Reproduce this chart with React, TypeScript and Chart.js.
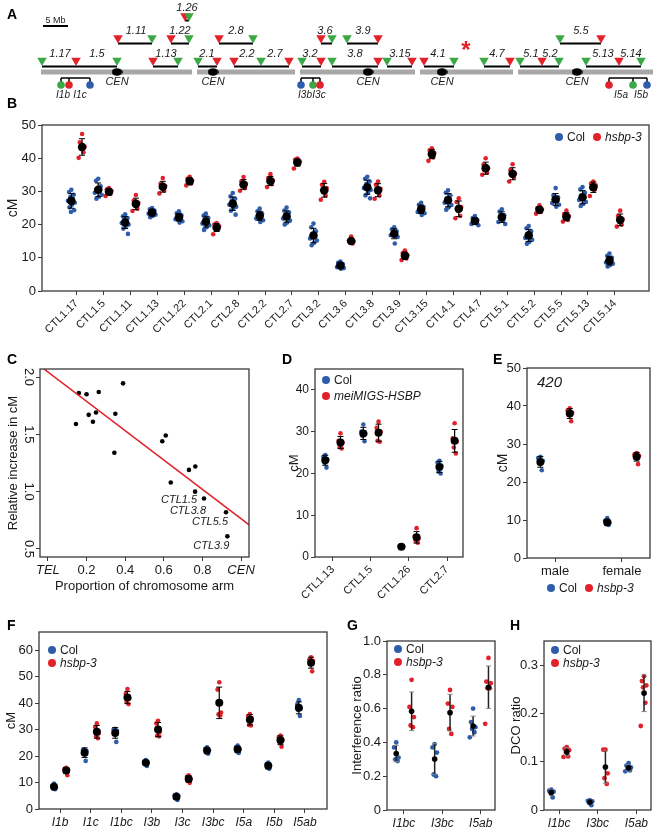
import React, { useEffect, useRef } from "react";
import { Chart, registerables } from "chart.js";

Chart.register(...registerables);

const FONT = "'Liberation Sans', Arial, Helvetica, sans-serif";
Chart.defaults.font.family = FONT;
Chart.defaults.color = "#1a1a1a";

const BLUE = "#2d5dab";
const RED = "#e2222b";
const GREEN = "#3aa845";
const INK = "#1a1a1a";
const FRAME = "#3a3a3a";

// ---------------- Panel A: map (Mb along concatenated genome) ----------------
const chromStart = [0, 31.2, 51.8, 75.8, 95.4];
const chromEnd = [30.2, 50.8, 74.8, 94.4, 122.4];
const centromeres = [15.2, 34.4, 65.4, 80.2, 107.2];
const row1Red = [7, 22.4, 35.2, 38.6, 49.6, 56, 67.4, 74.2, 76.6, 93.8, 100.2, 115.6];
const row1Green = [0.2, 15.2, 27.4, 31.4, 44, 52.2, 58.2, 69.2, 82.6, 88.6, 95.8, 103.6, 109, 120];
const row1Spans = [[0.2, 15.2], [22.4, 27.4], [31.4, 35.2], [38.6, 49.6], [52.2, 56], [58.2, 67.4], [69.2, 74.2], [76.6, 82.6], [88.6, 93.8], [95.8, 103.6], [109, 120]];
const row1Names = ["1.17", "1.5", "1.13", "2.1", "2.2", "2.7", "3.2", "3.8", "3.15", "4.1", "4.7", "5.1", "5.2", "5.13", "5.14"];
const row1NameX = [3.8, 11.2, 25, 33.2, 41.2, 46.8, 53.8, 62.8, 71.8, 79.4, 91.2, 98, 101.8, 112.4, 118];
const row2Red = [15.4, 26, 35.6, 56, 67.4, 112];
const row2Green = [22.2, 29.6, 42.4, 58.2, 61.2, 103.8];
const row2Spans = [[15.4, 22.2], [26, 29.6], [35.6, 42.4], [56, 58.2], [61.2, 67.4], [103.8, 112]];
const row2Names = ["1.11", "1.22", "2.8", "3.6", "3.9", "5.5"];
const row2NameX = [19, 27.8, 39, 56.8, 64.4, 108];
const row3Red = [28.8];
const row3Green = [29.6];
const row3Spans = [[28.8, 29.6]];
const row3Names = ["1.26"];
const row3NameX = [29.2];
const ivlGreen = [4, 54.4, 118.4];
const ivlRed = [5.6, 55.8, 113.6];
const ivlBlue = [9.8, 52, 121.2];
const ivlSpans = [[4, 9.8], [52, 55.8], [113.6, 121.2]];
const ivlNames = ["I1b", "I1c", "I3b", "I3c", "I5a", "I5b"];
const ivlNameX = [4.4, 7.8, 52.8, 55.6, 116, 120];
const scaleBar = [0.4, 5.4];
const asteriskX = 85;

// ---------------- Panel B ----------------
const bCats = ["CTL1.17", "CTL1.5", "CTL1.11", "CTL1.13", "CTL1.22", "CTL2.1", "CTL2.8", "CTL2.2", "CTL2.7", "CTL3.2", "CTL3.6", "CTL3.8", "CTL3.9", "CTL3.15", "CTL4.1", "CTL4.7", "CTL5.1", "CTL5.2", "CTL5.5", "CTL5.13", "CTL5.14"];
const bCol = [
  [30.5, 29.8, 29.0, 28.3, 27.8, 27.2, 26.6, 26.0, 25.2, 24.3, 23.8],
  [33.8, 33.2, 31.5, 30.8, 30.2, 29.6, 29.0, 28.4, 27.8],
  [23.1, 22.5, 22.0, 21.5, 21.0, 20.5, 20.0, 19.5, 18.8, 17.2],
  [25.0, 24.6, 24.2, 23.9, 23.6, 23.3, 23.0, 22.6, 22.2],
  [24.0, 23.4, 22.8, 22.4, 22.0, 21.6, 21.0, 20.6],
  [23.3, 22.7, 22.0, 21.4, 20.9, 20.3, 19.8, 19.2, 18.4],
  [29.5, 28.5, 27.8, 27.2, 26.6, 26.0, 25.4, 24.8, 24.2, 23.0],
  [24.8, 24.0, 23.3, 22.8, 22.3, 21.8, 21.3, 20.8],
  [25.1, 24.2, 23.6, 23.0, 22.4, 21.8, 21.2, 20.6, 20.0],
  [20.3, 19.2, 18.0, 17.2, 16.4, 15.8, 15.2, 14.5, 13.8],
  [8.9, 8.5, 8.1, 7.8, 7.5, 7.2, 6.9, 6.7],
  [34.4, 33.8, 33.0, 32.2, 31.6, 31.0, 30.4, 29.6, 28.8, 27.9],
  [19.2, 18.6, 18.0, 17.6, 17.2, 16.8, 16.3, 14.3],
  [26.6, 26.0, 25.3, 24.7, 24.2, 23.8, 23.4, 22.9],
  [30.3, 29.6, 28.8, 28.0, 27.3, 26.6, 25.9, 25.2, 24.5],
  [22.6, 22.0, 21.4, 21.0, 20.6, 20.2, 19.8],
  [24.6, 23.9, 22.8, 22.0, 21.4, 20.8, 20.2],
  [19.6, 18.9, 18.0, 17.2, 16.6, 16.0, 15.4, 14.8, 14.2],
  [31.0, 28.8, 28.2, 27.6, 27.0, 26.5, 26.0, 25.4],
  [31.3, 30.6, 29.6, 28.8, 28.0, 27.4, 26.8, 26.2, 25.6],
  [11.3, 10.6, 10.0, 9.4, 9.0, 8.6, 8.2, 7.8, 7.4],
];
const bMut = [
  [47.3, 44.8, 43.5, 42.8, 41.8, 40.1],
  [31.0, 30.6, 30.2, 29.8, 29.2, 28.6],
  [28.9, 27.2, 26.6, 25.8, 24.8, 24.1],
  [34.0, 32.3, 31.6, 31.0, 30.2, 29.4],
  [34.4, 33.8, 33.3, 32.9, 32.4, 31.8],
  [20.5, 20.0, 19.5, 19.0, 18.6, 17.1],
  [34.3, 33.0, 32.3, 31.8, 31.0, 30.2],
  [35.2, 34.0, 33.3, 32.8, 32.2, 31.3],
  [39.9, 39.5, 39.1, 38.7, 38.2, 36.9],
  [32.9, 32.0, 31.0, 29.8, 28.7, 27.5],
  [16.4, 15.2, 14.9, 14.6, 14.3],
  [33.0, 32.0, 30.8, 29.8, 28.8, 27.8],
  [12.2, 11.4, 10.8, 10.2, 9.8, 9.3],
  [43.0, 42.4, 41.6, 40.9, 40.3, 39.2],
  [27.9, 26.8, 25.3, 24.1, 22.6, 21.9],
  [40.0, 38.0, 37.0, 36.4, 35.6, 35.0],
  [38.2, 36.4, 35.4, 34.8, 34.1, 33.0],
  [25.8, 25.0, 24.6, 24.2, 23.8, 23.3],
  [24.2, 23.2, 22.6, 22.0, 21.4, 20.9],
  [33.0, 32.4, 31.8, 31.2, 30.5, 28.6],
  [24.2, 22.6, 21.6, 20.8, 20.0, 19.4],
];
const bYTicks = [0, 10, 20, 30, 40, 50];

// ---------------- Panel C ----------------
const cX = [0.16, 0.2, 0.263, 0.389, 0.145, 0.211, 0.249, 0.233, 0.349, 0.344, 0.592, 0.61, 0.636, 0.73, 0.763, 0.762, 0.808, 0.922, 0.929];
const cY = [1.86, 1.85, 1.87, 1.945, 1.59, 1.67, 1.69, 1.61, 1.68, 1.34, 1.44, 1.49, 1.08, 1.19, 1.22, 1.0, 0.94, 0.82, 0.61];
const cLabelIdx = [15, 16, 17, 18];
const cLabelNames = ["CTL1.5", "CTL3.8", "CTL5.5", "CTL3.9"];
const cFitIntercept = 2.044;
const cFitSlope = -1.28;
const cXTicks = [0, 0.2, 0.4, 0.6, 0.8, 1.0];
const cXTickLabels = ["TEL", "0.2", "0.4", "0.6", "0.8", "CEN"];
const cYTicks = [0.5, 1.0, 1.5, 2.0];

// ---------------- Panel D ----------------
const dCats = ["CTL1.13", "CTL1.5", "CTL1.26", "CTL2.7"];
const dCol = [[24.4, 24.0, 23.4, 22.6, 21.4], [31.7, 30.0, 29.5, 29.0, 27.7], [2.8, 2.6, 2.5, 2.3, 2.2], [23.0, 22.6, 21.8, 20.4, 20.0]];
const dMut = [[29.6, 27.8, 27.4, 26.3, 26.0], [32.4, 30.9, 30.0, 27.8, 27.6], [6.9, 5.0, 4.4, 3.8, 3.4], [32.0, 28.4, 27.6, 26.2, 24.8]];
const dYTicks = [0, 10, 20, 30, 40];

// ---------------- Panel E ----------------
const eCats = ["male", "female"];
const eCol = [[26.6, 26.3, 25.6, 24.8, 23.1], [10.5, 9.8, 9.3, 8.9, 8.7]];
const eMut = [[39.4, 38.8, 38.2, 37.6, 36.0], [27.6, 27.2, 26.9, 26.8, 24.7]];
const eYTicks = [0, 10, 20, 30, 40, 50];

// ---------------- Panel F ----------------
const fCats = ["I1b", "I1c", "I1bc", "I3b", "I3c", "I3bc", "I5a", "I5b", "I5ab"];
const fCol = [[9.6, 8.8, 8.2, 7.8, 7.5], [22.6, 22.3, 22.0, 21.5, 18.2], [30.4, 30.0, 29.6, 28.6, 25.4], [18.5, 18.0, 17.6, 17.2, 16.3], [5.6, 5.2, 4.9, 4.2, 3.4], [23.4, 22.8, 22.2, 21.4, 20.9], [24.0, 23.4, 22.6, 21.8, 21.2], [17.6, 17.0, 16.4, 15.6, 15.2], [41.2, 39.5, 38.0, 37.5, 35.2]];
const fMut = [[15.6, 15.2, 14.8, 14.4, 12.8], [32.4, 31.0, 28.6, 27.4, 26.8], [45.4, 43.5, 41.8, 40.5, 39.7], [33.4, 32.4, 29.2, 27.8, 27.5], [12.8, 12.2, 11.4, 10.6, 9.9], [48.0, 45.2, 36.5, 35.8, 35.4], [35.9, 35.2, 34.4, 31.8, 31.6], [27.8, 27.2, 26.2, 25.2, 23.6], [57.4, 56.6, 56.0, 54.8, 52.1]];
const fYTicks = [0, 10, 20, 30, 40, 50, 60];

// ---------------- Panel G ----------------
const gCats = ["I1bc", "I3bc", "I5ab"];
const gCol = [[0.40, 0.37, 0.31, 0.30, 0.29], [0.39, 0.37, 0.34, 0.21, 0.20], [0.60, 0.52, 0.49, 0.48, 0.46, 0.43]];
const gMut = [[0.77, 0.61, 0.55, 0.50, 0.49], [0.71, 0.63, 0.61, 0.48, 0.45], [0.90, 0.76, 0.75, 0.72, 0.72, 0.51]];
const gYTicks = [0, 0.2, 0.4, 0.6, 0.8, 1.0];

// ---------------- Panel H ----------------
const hCats = ["I1bc", "I3bc", "I5ab"];
const hCol = [[0.042, 0.040, 0.038, 0.036, 0.026], [0.020, 0.019, 0.018, 0.015, 0.010], [0.097, 0.092, 0.088, 0.085, 0.082, 0.080]];
const hMut = [[0.130, 0.127, 0.124, 0.120, 0.111, 0.110], [0.125, 0.125, 0.076, 0.066, 0.054], [0.277, 0.267, 0.258, 0.254, 0.222, 0.174]];
const hYTicks = [0, 0.1, 0.2, 0.3];

// ---------------------------------------------------------------------------
const JIT = [0, -0.55, 0.6, -0.25, 0.35, -0.85, 0.85, 0.15, -0.45, 0.7, -0.1];

function meanSd(v: number[]) {
  const m = v.reduce((a, b) => a + b, 0) / v.length;
  const sd = Math.sqrt(v.reduce((a, b) => a + (b - m) * (b - m), 0) / (v.length - 1));
  return { m, sd };
}

const boxPlugin = {
  id: "box",
  afterDraw(chart: any) {
    const { ctx, chartArea: a } = chart;
    ctx.save();
    ctx.strokeStyle = FRAME;
    ctx.lineWidth = 1.3;
    ctx.strokeRect(a.left, a.top, a.right - a.left, a.bottom - a.top);
    ctx.restore();
  },
};

const gridOpts = { display: true, drawOnChartArea: false, drawTicks: true, tickLength: 4, color: FRAME, lineWidth: 1 };

type DotCfg = {
  cx: number; cy: number; cw: number; ch: number;
  area: number[];
  cats: string[]; xMin: number; xMax: number;
  yMax: number; yTicks: number[]; fmt: (v: number) => string;
  col: number[][]; mut: number[][];
  off: number; jit: number; pr: number; mr: number; cap: number;
  rot: boolean; italicX: boolean; xFont: number; yFont: number;
  yTitle: string; yTitleSize: number; yTitlePad: number;
  barColor: string; capColor: string; barWidth: number;
};

function buildDot(canvas: HTMLCanvasElement, c: DotCfg) {
  const [L, T, R, B] = c.area;
  const l = L - c.cx, t = T - c.cy, r = R - c.cx, b = B - c.cy;
  const spread = (groups: number[][], side: number) =>
    groups.flatMap((vals, i) => vals.map((v, j) => ({ x: i + side * c.off + JIT[j % JIT.length] * c.jit, y: v })));
  const stats = [
    ...c.col.map((v, i) => ({ x: i - c.off, ...meanSd(v) })),
    ...c.mut.map((v, i) => ({ x: i + c.off, ...meanSd(v) })),
  ];
  const errPlugin = {
    id: "err",
    afterDatasetDraw(chart: any, args: any) {
      if (args.index !== 1) return;
      const { ctx, scales } = chart;
      ctx.save();
      stats.forEach((s) => {
        const px = scales.x.getPixelForValue(s.x);
        const y0 = scales.y.getPixelForValue(s.m - s.sd);
        const y1 = scales.y.getPixelForValue(s.m + s.sd);
        ctx.strokeStyle = c.barColor;
        ctx.lineWidth = c.barWidth;
        ctx.beginPath();
        ctx.moveTo(px, y0);
        ctx.lineTo(px, y1);
        ctx.stroke();
        ctx.strokeStyle = c.capColor;
        ctx.lineWidth = 1;
        ctx.beginPath();
        ctx.moveTo(px - c.cap, y0);
        ctx.lineTo(px + c.cap, y0);
        ctx.moveTo(px - c.cap, y1);
        ctx.lineTo(px + c.cap, y1);
        ctx.stroke();
      });
      ctx.restore();
    },
  };
  return new Chart(canvas, {
    type: "scatter",
    data: {
      datasets: [
        { data: spread(c.col, -1), backgroundColor: BLUE, borderWidth: 0, pointRadius: c.pr, order: 3 },
        { data: spread(c.mut, 1), backgroundColor: RED, borderWidth: 0, pointRadius: c.pr, order: 2 },
        { data: stats.map((s) => ({ x: s.x, y: s.m })), backgroundColor: "#000", borderWidth: 0, pointRadius: c.mr, order: 1 },
      ],
    },
    options: {
      responsive: false,
      animation: false,
      layout: { autoPadding: false, padding: { left: 0, top: t, right: c.cw - r, bottom: 0 } },
      plugins: { legend: { display: false }, tooltip: { enabled: false } },
      scales: {
        x: {
          type: "linear",
          min: c.xMin,
          max: c.xMax,
          afterFit: (s: any) => { s.height = c.ch - b; },
          afterBuildTicks: (s: any) => { s.ticks = c.cats.map((_, i) => ({ value: i })); },
          ticks: {
            autoSkip: false,
            callback: (v: any) => c.cats[v] ?? "",
            minRotation: c.rot ? 45 : 0,
            maxRotation: c.rot ? 45 : 0,
            font: { size: c.xFont, style: c.italicX ? "italic" : "normal", family: FONT },
            color: INK,
            padding: 2,
          },
          grid: gridOpts,
          border: { display: false },
        },
        y: {
          type: "linear",
          min: 0,
          max: c.yMax,
          afterFit: (s: any) => { s.width = l; },
          afterBuildTicks: (s: any) => { s.ticks = c.yTicks.map((v) => ({ value: v })); },
          ticks: { callback: (v: any) => c.fmt(v), font: { size: c.yFont, family: FONT }, color: INK, padding: 2 },
          grid: gridOpts,
          border: { display: false },
          title: { display: true, text: c.yTitle, color: INK, font: { size: c.yTitleSize, family: FONT }, padding: { top: c.yTitlePad, bottom: 0 } },
        },
      },
    } as any,
    plugins: [errPlugin, boxPlugin],
  });
}

function buildMap(canvas: HTMLCanvasElement) {
  const Y = { r3: 16, r3line: 20.5, r2: 38, r2line: 43.5, r1: 60.5, r1line: 66.5, chrom: 72, bracket: 78, circ: 85, l1: 53.5, l2: 31, l3: 8, cen: 81.5, ivl: 95 };
  const seg = (a: number, b: number, y1: number, y2: number, color: string, w: number) => ({
    data: [{ x: a, y: y1 }, { x: b, y: y2 }], showLine: true, borderColor: color, borderWidth: w,
    pointRadius: 0, borderCapStyle: "butt", clip: false,
  });
  const pts = (xs: number[], y: number, color: string, style: any, r: number, rot = 0) => ({
    data: xs.map((x) => ({ x, y })), pointStyle: style, pointRadius: r, pointRotation: rot,
    backgroundColor: color, borderColor: color, borderWidth: 0, clip: false,
  });
  const cen = document.createElement("canvas");
  cen.width = 11;
  cen.height = 8;
  const g = cen.getContext("2d")!;
  g.fillStyle = "#000";
  g.beginPath();
  g.ellipse(5.5, 4, 5.3, 3.8, 0, 0, Math.PI * 2);
  g.fill();

  const datasets: any[] = [
    ...chromStart.map((s, i) => seg(s, chromEnd[i], Y.chrom, Y.chrom, "#a8a8a8", 5)),
    ...row1Spans.map(([a, b]) => seg(a, b, Y.r1line, Y.r1line, "#000", 2)),
    ...row2Spans.map(([a, b]) => seg(a, b, Y.r2line, Y.r2line, "#000", 2)),
    ...row3Spans.map(([a, b]) => seg(a, b, Y.r3line, Y.r3line, "#000", 2)),
    ...ivlSpans.map(([a, b]) => seg(a, b, Y.bracket, Y.bracket, "#000", 1.5)),
    ...[...ivlGreen, ...ivlRed, ...ivlBlue].map((x) => seg(x, x, Y.bracket, Y.circ, "#000", 1.5)),
    seg(scaleBar[0], scaleBar[1], 26, 26, "#000", 2),
    pts(centromeres, Y.chrom, "#000", cen, 5),
    pts(row1Red, Y.r1, RED, "triangle", 5.5, 180),
    pts(row1Green, Y.r1, GREEN, "triangle", 5.5, 180),
    pts(row2Red, Y.r2, RED, "triangle", 5.5, 180),
    pts(row2Green, Y.r2, GREEN, "triangle", 5.5, 180),
    pts(row3Red, Y.r3, RED, "triangle", 5.5, 180),
    pts(row3Green, Y.r3, GREEN, "triangle", 5.5, 180),
    pts(ivlGreen, Y.circ, GREEN, "circle", 3.8),
    pts(ivlRed, Y.circ, RED, "circle", 3.8),
    pts(ivlBlue, Y.circ, BLUE, "circle", 3.8),
  ];
  // first listed dataset is painted first
  datasets.forEach((d, i) => { d.order = datasets.length - i; });
  const texts: any[] = [
    ...row1Names.map((t, i) => ({ t, x: row1NameX[i], y: Y.l1, f: `italic 11px ${FONT}`, c: INK })),
    ...row2Names.map((t, i) => ({ t, x: row2NameX[i], y: Y.l2, f: `italic 11px ${FONT}`, c: INK })),
    ...row3Names.map((t, i) => ({ t, x: row3NameX[i], y: Y.l3, f: `italic 11px ${FONT}`, c: INK })),
    ...centromeres.map((x) => ({ t: "CEN", x, y: Y.cen, f: `italic 11px ${FONT}`, c: INK })),
    ...ivlNames.map((t, i) => ({ t, x: ivlNameX[i], y: Y.ivl, f: `italic 10px ${FONT}`, c: INK })),
    { t: "5 Mb", x: (scaleBar[0] + scaleBar[1]) / 2, y: 20.5, f: `9px ${FONT}`, c: INK },
    { t: "*", x: asteriskX, y: 51, f: `bold 24px ${FONT}`, c: RED },
  ];
  const textPlugin = {
    id: "maptext",
    afterDatasetsDraw(chart: any) {
      const { ctx, scales } = chart;
      ctx.save();
      ctx.textAlign = "center";
      ctx.textBaseline = "middle";
      texts.forEach((o) => {
        ctx.font = o.f;
        ctx.fillStyle = o.c;
        ctx.fillText(o.t, scales.x.getPixelForValue(o.x), scales.y.getPixelForValue(o.y));
      });
      ctx.restore();
    },
  };
  return new Chart(canvas, {
    type: "scatter",
    data: { datasets },
    options: {
      responsive: false,
      animation: false,
      layout: { autoPadding: false, padding: 0 },
      plugins: { legend: { display: false }, tooltip: { enabled: false } },
      scales: {
        x: { type: "linear", min: -8.2, max: 123.4, display: false },
        y: { type: "linear", min: 0, max: 100, reverse: true, display: false },
      },
    } as any,
    plugins: [textPlugin],
  });
}

function buildC(canvas: HTMLCanvasElement) {
  const cx = 0, cy = 355, cw = 260, ch = 245;
  const l = 40 - cx, t = 369 - cy, r = 249 - cx, b = 557 - cy;
  const labelDy = [8, 12, 10, 10];
  const labelPlugin = {
    id: "clabels",
    afterDatasetsDraw(chart: any) {
      const { ctx, scales } = chart;
      ctx.save();
      ctx.font = `italic 11px ${FONT}`;
      ctx.fillStyle = INK;
      ctx.textAlign = "right";
      ctx.textBaseline = "middle";
      cLabelIdx.forEach((idx, k) => {
        const px = scales.x.getPixelForValue(cX[idx]);
        const py = scales.y.getPixelForValue(cY[idx]);
        ctx.fillText(cLabelNames[k], px + 2, py + labelDy[k]);
      });
      ctx.restore();
    },
  };
  return new Chart(canvas, {
    type: "scatter",
    data: {
      datasets: [
        { data: cX.map((x, i) => ({ x, y: cY[i] })), backgroundColor: "#000", borderWidth: 0, pointRadius: 2.3, order: 2 },
        {
          data: [-0.1, 1.1].map((x) => ({ x, y: cFitIntercept + cFitSlope * x })),
          showLine: true, borderColor: RED, borderWidth: 1.5, pointRadius: 0, order: 1,
        },
      ],
    },
    options: {
      responsive: false,
      animation: false,
      layout: { autoPadding: false, padding: { left: 0, top: t, right: cw - r, bottom: 0 } },
      plugins: { legend: { display: false }, tooltip: { enabled: false } },
      scales: {
        x: {
          type: "linear", min: -0.041, max: 1.041,
          afterFit: (s: any) => { s.height = ch - b; },
          afterBuildTicks: (s: any) => { s.ticks = cXTicks.map((v) => ({ value: v })); },
          ticks: {
            autoSkip: false,
            callback: (v: any) => cXTickLabels[cXTicks.indexOf(v)] ?? "",
            font: (ctx: any) => ({ size: 13, family: FONT, style: ctx.tick && (ctx.tick.value === 0 || ctx.tick.value === 1) ? "italic" : "normal" }),
            color: INK, padding: 2, minRotation: 0, maxRotation: 0,
          },
          grid: gridOpts,
          border: { display: false },
          title: { display: true, text: "Proportion of chromosome arm", color: INK, font: { size: 13, family: FONT }, padding: { top: 0, bottom: 6 } },
        },
        y: {
          type: "linear", min: 0.43, max: 2.07,
          afterFit: (s: any) => { s.width = l; },
          afterBuildTicks: (s: any) => { s.ticks = cYTicks.map((v) => ({ value: v })); },
          ticks: { callback: (v: any) => Number(v).toFixed(1), font: { size: 13, family: FONT }, color: INK, padding: -2, minRotation: -90, maxRotation: -90, crossAlign: "center" },
          grid: gridOpts,
          border: { display: false },
          title: { display: true, text: "Relative increase in cM", color: INK, font: { size: 13, family: FONT }, padding: { top: 5.5, bottom: 0 } },
        },
      },
    } as any,
    plugins: [labelPlugin, boxPlugin],
  });
}

const fmtInt = (v: number) => String(v);
const fmtDec = (v: number) => (v === 0 ? "0" : v.toFixed(1));

const cfgB: DotCfg = {
  cx: 0, cy: 100, cw: 658, ch: 260, area: [42, 125, 649, 291],
  cats: bCats, xMin: -1.29, xMax: 21.27, yMax: 50, yTicks: bYTicks, fmt: fmtInt,
  col: bCol, mut: bMut, off: 0.2, jit: 0.15, pr: 2.3, mr: 4.3, cap: 3,
  rot: true, italicX: false, xFont: 11, yFont: 13,
  yTitle: "cM", yTitleSize: 14, yTitlePad: 4.6, barColor: "#000", capColor: "#000", barWidth: 1.2,
};
const cfgD: DotCfg = {
  cx: 262, cy: 355, cw: 210, ch: 250, area: [315, 369, 463, 557],
  cats: dCats, xMin: -0.47, xMax: 3.42, yMax: 45, yTicks: dYTicks, fmt: fmtInt,
  col: dCol, mut: dMut, off: 0.2, jit: 0.09, pr: 2.3, mr: 4, cap: 3,
  rot: true, italicX: false, xFont: 11, yFont: 12,
  yTitle: "cM", yTitleSize: 13, yTitlePad: 25, barColor: "#000", capColor: "#000", barWidth: 1.2,
};
const cfgE: DotCfg = {
  cx: 470, cy: 355, cw: 188, ch: 225, area: [527, 368, 650, 558],
  cats: eCats, xMin: -0.42, xMax: 1.42, yMax: 50, yTicks: eYTicks, fmt: fmtInt,
  col: eCol, mut: eMut, off: 0.22, jit: 0.06, pr: 2.3, mr: 4, cap: 3,
  rot: false, italicX: false, xFont: 13, yFont: 13,
  yTitle: "cM", yTitleSize: 14, yTitlePad: 24.6, barColor: "#000", capColor: "#000", barWidth: 1.2,
};
const cfgF: DotCfg = {
  cx: 0, cy: 620, cw: 335, ch: 211, area: [39, 632, 327, 809],
  cats: fCats, xMin: -0.69, xMax: 8.72, yMax: 67, yTicks: fYTicks, fmt: fmtInt,
  col: fCol, mut: fMut, off: 0.2, jit: 0.1, pr: 2.3, mr: 4, cap: 3,
  rot: false, italicX: true, xFont: 12, yFont: 13,
  yTitle: "cM", yTitleSize: 13, yTitlePad: 3.9, barColor: "#000", capColor: "#000", barWidth: 1.2,
};
const cfgG: DotCfg = {
  cx: 335, cy: 620, cw: 165, ch: 211, area: [387, 641, 495, 810],
  cats: gCats, xMin: -0.44, xMax: 2.37, yMax: 1.0, yTicks: gYTicks, fmt: fmtDec,
  col: gCol, mut: gMut, off: 0.2, jit: 0.1, pr: 2.4, mr: 2.8, cap: 2.5,
  rot: false, italicX: true, xFont: 12, yFont: 13,
  yTitle: "Interference ratio", yTitleSize: 13, yTitlePad: 14.2, barColor: "#222", capColor: "#888", barWidth: 1.5,
};
const cfgH: DotCfg = {
  cx: 500, cy: 620, cw: 158, ch: 211, area: [544, 641, 651, 810],
  cats: hCats, xMin: -0.39, xMax: 2.38, yMax: 0.35, yTicks: hYTicks, fmt: fmtDec,
  col: hCol, mut: hMut, off: 0.2, jit: 0.1, pr: 2.4, mr: 2.8, cap: 2.5,
  rot: false, italicX: true, xFont: 12, yFont: 13,
  yTitle: "DCO ratio", yTitleSize: 13, yTitlePad: 8.2, barColor: "#222", capColor: "#888", barWidth: 1.5,
};

function ChartBox(props: { left: number; top: number; width: number; height: number; build: (c: HTMLCanvasElement) => Chart }) {
  const ref = useRef<HTMLCanvasElement>(null);
  useEffect(() => {
    const chart = props.build(ref.current!);
    return () => chart.destroy();
  }, []);
  return (
    <canvas
      ref={ref}
      width={props.width}
      height={props.height}
      style={{ position: "absolute", left: props.left, top: props.top, width: props.width, height: props.height }}
    />
  );
}

function Legend(props: { x: number; y: number; color: string; label: string; italic?: boolean }) {
  return (
    <div
      style={{
        position: "absolute", left: props.x - 4, top: props.y - 8, height: 16,
        display: "flex", alignItems: "center", whiteSpace: "nowrap",
        font: `${props.italic ? "italic " : ""}12px ${FONT}`, color: INK,
      }}
    >
      <span style={{ display: "inline-block", width: 8, height: 8, borderRadius: "50%", background: props.color, marginRight: 4 }} />
      {props.label}
    </div>
  );
}

function Letter(props: { t: string; x: number; y: number }) {
  return (
    <div style={{ position: "absolute", left: props.x - 5, top: props.y - 8, font: `bold 14px ${FONT}`, lineHeight: "16px", color: "#000" }}>
      {props.t}
    </div>
  );
}

export default function App() {
  return (
    <div style={{ position: "absolute", left: 0, top: 0, width: 658, height: 831, background: "#fff", overflow: "hidden" }}>
      <ChartBox left={0} top={0} width={658} height={100} build={buildMap} />
      <ChartBox left={cfgB.cx} top={cfgB.cy} width={cfgB.cw} height={cfgB.ch} build={(c) => buildDot(c, cfgB)} />
      <ChartBox left={0} top={355} width={260} height={245} build={buildC} />
      <ChartBox left={cfgD.cx} top={cfgD.cy} width={cfgD.cw} height={cfgD.ch} build={(c) => buildDot(c, cfgD)} />
      <ChartBox left={cfgE.cx} top={cfgE.cy} width={cfgE.cw} height={cfgE.ch} build={(c) => buildDot(c, cfgE)} />
      <ChartBox left={cfgF.cx} top={cfgF.cy} width={cfgF.cw} height={cfgF.ch} build={(c) => buildDot(c, cfgF)} />
      <ChartBox left={cfgG.cx} top={cfgG.cy} width={cfgG.cw} height={cfgG.ch} build={(c) => buildDot(c, cfgG)} />
      <ChartBox left={cfgH.cx} top={cfgH.cy} width={cfgH.cw} height={cfgH.ch} build={(c) => buildDot(c, cfgH)} />

      <Letter t="A" x={12} y={14} />
      <Letter t="B" x={12} y={103} />
      <Letter t="C" x={12} y={359} />
      <Letter t="D" x={287} y={359} />
      <Letter t="E" x={498} y={359} />
      <Letter t="F" x={12} y={625} />
      <Letter t="G" x={352} y={625} />
      <Letter t="H" x={515} y={625} />

      <Legend x={559} y={137} color={BLUE} label="Col" />
      <Legend x={597} y={137} color={RED} label="hsbp-3" italic />
      <Legend x={326} y={380} color={BLUE} label="Col" />
      <Legend x={326} y={396} color={RED} label="meiMIGS-HSBP" italic />
      <Legend x={551} y={588} color={BLUE} label="Col" />
      <Legend x={589} y={588} color={RED} label="hsbp-3" italic />
      <Legend x={52} y={650} color={BLUE} label="Col" />
      <Legend x={52} y={663} color={RED} label="hsbp-3" italic />
      <Legend x={398} y={649} color={BLUE} label="Col" />
      <Legend x={398} y={662} color={RED} label="hsbp-3" italic />
      <Legend x={555} y={650} color={BLUE} label="Col" />
      <Legend x={555} y={663} color={RED} label="hsbp-3" italic />

      <div style={{ position: "absolute", left: 537, top: 373, font: `italic 15px ${FONT}`, lineHeight: "18px", color: INK }}>420</div>
    </div>
  );
}
